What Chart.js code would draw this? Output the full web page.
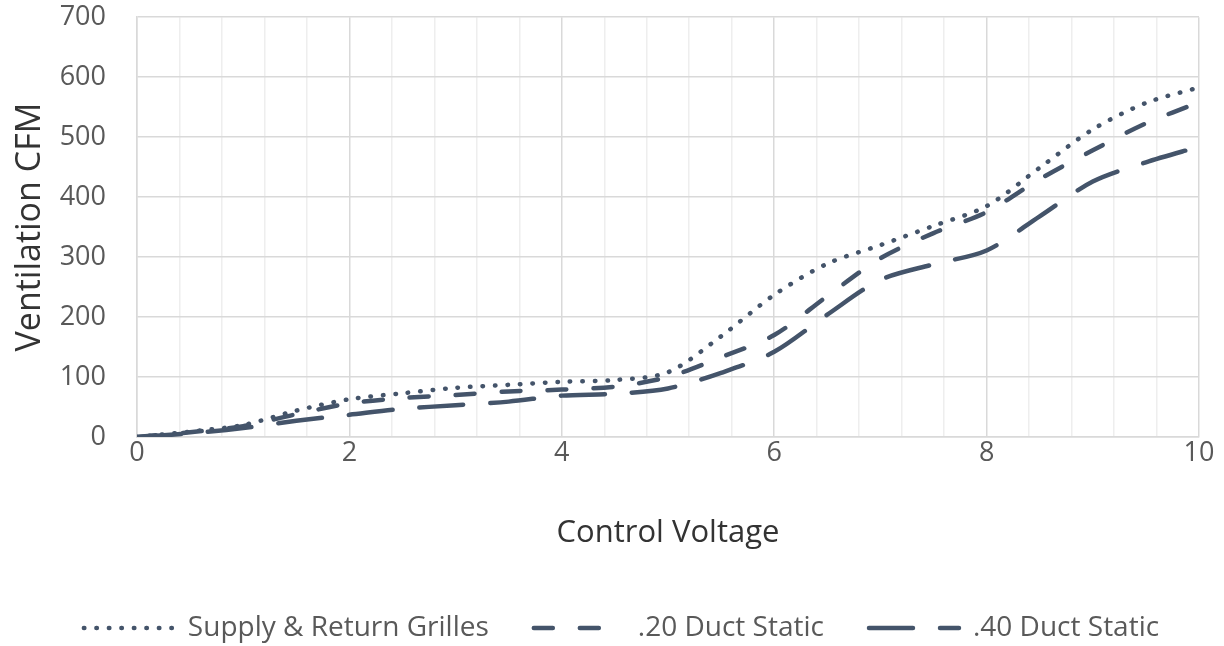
<!DOCTYPE html>
<html>
<head>
<meta charset="utf-8">
<title>Ventilation CFM vs Control Voltage</title>
<script src="https://cdn.jsdelivr.net/npm/chart.js@4.4.1/dist/chart.umd.min.js"></script>
<style>
  html, body { margin: 0; padding: 0; background: #ffffff; }
  #wrap { width: 1224px; height: 646px; }
</style>
</head>
<body>
<div id="wrap"><canvas id="cfmChart" width="1224" height="646"></canvas></div>
<script>
// Control voltage (x) and ventilation CFM (y)
const voltage = [0, 0.5, 1, 1.5, 2, 2.5, 3, 3.5, 4, 4.5, 5, 5.5, 6, 6.5, 7, 7.5, 8, 8.5, 9, 9.5, 10];
const supplyReturn = [0, 9, 20, 44, 63, 73, 82, 87, 92, 95, 108, 168, 237, 289, 320, 352, 385, 449, 513, 557, 583];
const duct20 = [0, 8, 18, 38, 56, 65, 70, 76, 79, 84, 100, 133, 170, 235, 298, 340, 375, 430, 478, 523, 558];
const duct40 = [0, 6, 15, 27, 37, 47, 53, 59, 69, 72, 81, 107, 142, 204, 262, 288, 311, 368, 426, 458, 484];
const seriesNames = ['Supply & Return Grilles', '.20 Duct Static', '.40 Duct Static'];
const xTickLabels = [0, 2, 4, 6, 8, 10];

const lineColor = '#44546A';
const fontFamily = "'Open Sans', 'Noto Sans', sans-serif";

function toPoints(values) {
    return values.map((v, i) => ({ x: voltage[i], y: v }));
}

function isMajor(v) {
    return xTickLabels.some(t => Math.abs(t - v) < 1e-6);
}

// nudge the legend down and to the right, like the original
const legendShift = {
    id: 'legendShift',
    afterLayout(chart) {
        if (chart.legend) {
            chart.legend.top += 6;
            chart.legend.bottom += 6;
            chart.legend.left += 22;
            chart.legend.right += 22;
        }
    }
};

const ctx = document.getElementById('cfmChart').getContext('2d');

const cfmChart = new Chart(ctx, {
    type: 'line',
    data: {
        datasets: [{
            label: seriesNames[0],
            data: toPoints(supplyReturn),
            borderColor: lineColor,
            backgroundColor: lineColor,
            borderWidth: 4.5,
            borderDash: [0.5, 12],
            borderCapStyle: 'round',
            pointRadius: 0,
            tension: 0.3,
            fill: false
        }, {
            label: seriesNames[1],
            data: toPoints(duct20),
            borderColor: lineColor,
            backgroundColor: lineColor,
            borderWidth: 4.5,
            borderDash: [19, 27],
            borderCapStyle: 'round',
            pointRadius: 0,
            tension: 0.3,
            fill: false
        }, {
            label: seriesNames[2],
            data: toPoints(duct40),
            borderColor: lineColor,
            backgroundColor: lineColor,
            borderWidth: 4.5,
            borderDash: [44, 27],
            borderCapStyle: 'round',
            pointRadius: 0,
            tension: 0.3,
            fill: false
        }]
    },
    plugins: [legendShift],
    options: {
        responsive: false,
        animation: false,
        layout: {
            padding: { top: 17, right: 25, left: 0, bottom: 0 }
        },
        plugins: {
            tooltip: { enabled: false },
            legend: {
                position: 'bottom',
                labels: {
                    usePointStyle: true,
                    pointStyle: 'line',
                    pointStyleWidth: 90,
                    boxHeight: 28,
                    padding: 45,
                    color: '#595959',
                    font: { family: fontFamily, size: 28 },
                    // the point style item has no dash, so take it from the dataset
                    generateLabels: function (chart) {
                        const items = Chart.defaults.plugins.legend.labels.generateLabels(chart);
                        items.forEach(item => {
                            const ds = chart.data.datasets[item.datasetIndex];
                            item.lineDash = ds.borderDash;
                            item.lineCap = ds.borderCapStyle;
                            item.lineWidth = ds.borderWidth;
                            item.strokeStyle = ds.borderColor;
                        });
                        return items;
                    }
                }
            }
        },
        scales: {
            x: {
                type: 'linear',
                min: 0,
                max: 10,
                afterBuildTicks: function (scale) {
                    // minor gridlines every 0.4, labels every 2
                    const ticks = [];
                    for (let i = 0; i <= 25; i++) {
                        ticks.push({ value: Math.round(i * 0.4 * 100) / 100 });
                    }
                    scale.ticks = ticks;
                },
                afterFit: function (scale) {
                    scale.height = 126;
                },
                grid: {
                    drawTicks: false,
                    color: c => (c.tick && isMajor(c.tick.value)) ? '#d9d9d9' : '#eeeeee',
                    lineWidth: 1.5
                },
                border: { color: '#d9d9d9', width: 1.5 },
                ticks: {
                    padding: 0,
                    autoSkip: false,
                    maxRotation: 0,
                    color: '#595959',
                    font: { family: fontFamily, size: 27 },
                    callback: v => isMajor(v) ? String(Math.round(v)) : ''
                },
                title: {
                    display: true,
                    text: 'Control Voltage',
                    color: '#333333',
                    font: { family: fontFamily, size: 31, lineHeight: 1 },
                    padding: { top: 0, bottom: 14 }
                }
            },
            y: {
                min: 0,
                max: 700,
                afterFit: function (scale) {
                    scale.width = 137;
                },
                grid: {
                    drawTicks: true,
                    tickLength: 30,
                    tickColor: 'rgba(0,0,0,0)',
                    color: '#d9d9d9',
                    lineWidth: 1.5
                },
                border: { color: '#d9d9d9', width: 1.5 },
                ticks: {
                    stepSize: 100,
                    padding: 1,
                    color: '#595959',
                    font: { family: fontFamily, size: 27 }
                },
                title: {
                    display: true,
                    text: 'Ventilation CFM',
                    color: '#333333',
                    font: { family: fontFamily, size: 34, lineHeight: 1 },
                    padding: { top: 13, bottom: 0 }
                }
            }
        }
    }
});
</script>
</body>
</html>
